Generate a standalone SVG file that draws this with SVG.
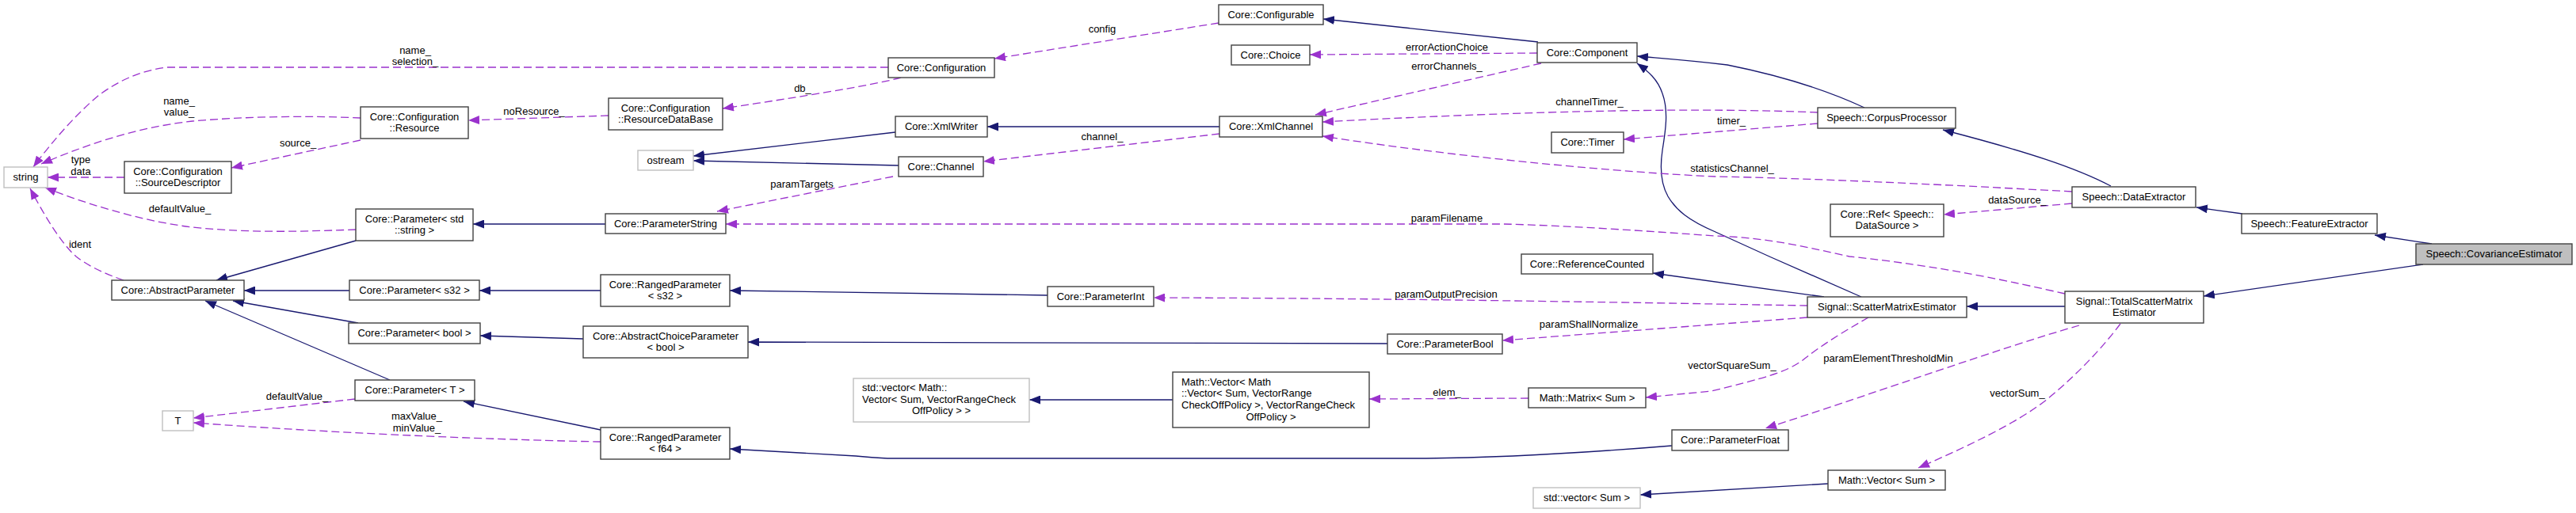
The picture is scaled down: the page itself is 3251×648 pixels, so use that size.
<svg xmlns="http://www.w3.org/2000/svg" width="3251" height="648" viewBox="0 0 3251 648">
<style>
rect.n{fill:#fff;stroke:#404040;stroke-width:1.4}
rect.g{fill:#fff;stroke:#bfbfbf;stroke-width:1.4}
rect.h{fill:#bfbfbf;stroke:#404040;stroke-width:1.4}
text{font-family:"Liberation Sans",Arial,sans-serif;font-size:13px;fill:#000}
text.m{text-anchor:middle}
path.i{fill:none;stroke:#191970;stroke-width:1.3;marker-end:url(#ab)}
path.u{fill:none;stroke:#9a32cd;stroke-width:1.3;stroke-dasharray:10,5;marker-end:url(#ap)}
</style>
<defs>
<marker id="ab" viewBox="0 0 14 11" refX="14" refY="5.5" markerWidth="14" markerHeight="11" markerUnits="userSpaceOnUse" orient="auto"><path d="M0,0L14,5.5L0,11z" fill="#191970"/></marker>
<marker id="ap" viewBox="0 0 14 11" refX="14" refY="5.5" markerWidth="14" markerHeight="11" markerUnits="userSpaceOnUse" orient="auto"><path d="M0,0L14,5.5L0,11z" fill="#9a32cd"/></marker>
</defs>
<rect width="3251" height="648" fill="#fff"/>
<g id="connectors">
<path class="i" d="M1941,53 L1670,24"/>
<path class="i" d="M2353,136 C2310,116 2250,96 2180,82 C2130,76 2100,74 2066,71"/>
<path class="i" d="M2349,375 L2233,324 L2165,293 C2130,278 2115,265 2105,248 C2095,230 2095,210 2098,190 C2102,165 2106,140 2098,118 C2092,100 2080,90 2066,80"/>
<path class="i" d="M1539,160 L1246,160"/>
<path class="i" d="M1130,167 L875,197"/>
<path class="i" d="M1134,209 L875,203"/>
<path class="i" d="M2664,235 C2620,212 2560,192 2452,164"/>
<path class="i" d="M2830,270 L2772,262"/>
<path class="i" d="M3069,308 L2997,297"/>
<path class="i" d="M3058,334 L2781,374"/>
<path class="i" d="M2606,387 L2482,387"/>
<path class="i" d="M2302,375 L2086,345"/>
<path class="i" d="M764,283 L597,283"/>
<path class="i" d="M449,304 L273,354"/>
<path class="i" d="M441,367 L308,367"/>
<path class="i" d="M452,408 L294,380"/>
<path class="i" d="M492,480 L259,380"/>
<path class="i" d="M758,367 L605,367"/>
<path class="i" d="M736,428 L606,424"/>
<path class="i" d="M758,543 L585,507"/>
<path class="i" d="M1322,373 L921,367"/>
<path class="i" d="M1751,434 L944,432"/>
<path class="i" d="M2110,563 C2000,572 1900,578 1800,579 L1120,579 C1100,578 1090,577 1080,576 L921,567"/>
<path class="i" d="M1480,505 L1299,505"/>
<path class="i" d="M2307,611 L2070,625"/>

<path class="u" d="M1121,85 L210,85 C175,90 150,102 125,120 C95,145 65,180 42,211"/>
<path class="u" d="M455,149 C390,146 310,147 243,153 C180,160 120,178 52,207"/>
<path class="u" d="M768,146 L591,152"/>
<path class="u" d="M455,177 L292,212"/>
<path class="u" d="M157,224 L60,224"/>
<path class="u" d="M449,290 C390,292 320,295 243,287 C190,281 120,262 57,237"/>
<path class="u" d="M156,354 C130,345 110,335 96,324 C80,310 60,280 38,238"/>
<path class="u" d="M448,504 L244,528"/>
<path class="u" d="M758,558 C650,556 450,549 244,534"/>
<path class="u" d="M1137,98 C1100,108 1000,124 912,137"/>
<path class="u" d="M1538,29 L1255,74"/>
<path class="u" d="M1940,67 L1653,69"/>
<path class="u" d="M1945,80 L1660,145"/>
<path class="u" d="M2294,142 C2150,136 1950,139 1669,154"/>
<path class="u" d="M2294,156 L2049,176"/>
<path class="u" d="M2615,242 C2450,233 2280,225 2165,223 C2050,218 1850,200 1669,172"/>
<path class="u" d="M1539,169 L1241,204"/>
<path class="u" d="M1127,223 L905,267"/>
<path class="u" d="M2606,371 C2540,356 2450,336 2334,324 C2280,312 2230,300 2165,298 C2080,292 1980,285 1898,283 L916,283"/>
<path class="u" d="M2281,386 C2100,383 1800,377 1456,376"/>
<path class="u" d="M2281,401 L1896,430"/>
<path class="u" d="M2358,401 C2330,417 2300,435 2275,455 C2255,470 2225,478 2160,494 L2077,502"/>
<path class="u" d="M1929,503 L1728,504"/>
<path class="u" d="M2624,411 C2520,441 2380,492 2228,541"/>
<path class="u" d="M2676,409 C2655,437 2625,470 2584,504 C2545,535 2480,565 2421,591"/>
<path class="u" d="M2615,257 L2453,271"/>

<g id="edge-labels">
<text class="m" x="524" y="67.7">name_</text>
<text class="m" x="524" y="81.7">selection_</text>
<text class="m" x="226" y="131.7">name_</text>
<text class="m" x="226" y="145.7">value_</text>
<text class="m" x="376" y="184.7">source_</text>
<text class="m" x="102" y="205.7">type</text>
<text class="m" x="102" y="220.7">data</text>
<text class="m" x="227" y="267.7">defaultValue_</text>
<text class="m" x="101" y="312.7">ident</text>
<text class="m" x="375" y="504.7">defaultValue_</text>
<text class="m" x="526" y="529.7">maxValue_</text>
<text class="m" x="526" y="544.7">minValue_</text>
<text class="m" x="674" y="144.7">noResource_</text>
<text class="m" x="1013" y="115.7">db_</text>
<text class="m" x="1012" y="236.7">paramTargets</text>
<text class="m" x="1391" y="40.7">config</text>
<text class="m" x="1391" y="176.7">channel_</text>
<text class="m" x="1826" y="63.7">errorActionChoice</text>
<text class="m" x="1826" y="87.7">errorChannels_</text>
<text class="m" x="2006" y="132.7">channelTimer_</text>
<text class="m" x="2185" y="156.7">timer_</text>
<text class="m" x="2186" y="216.7">statisticsChannel_</text>
<text class="m" x="1826" y="279.7">paramFilename</text>
<text class="m" x="1825" y="375.7">paramOutputPrecision</text>
<text class="m" x="2005" y="413.7">paramShallNormalize</text>
<text class="m" x="1826" y="499.7">elem_</text>
<text class="m" x="2186" y="465.7">vectorSquareSum_</text>
<text class="m" x="2546" y="256.7">dataSource_</text>
<text class="m" x="2383" y="456.7">paramElementThresholdMin</text>
<text class="m" x="2546" y="500.7">vectorSum_</text>
</g>
</g>

<g id="n_string"><rect class="g" x="5" y="211" width="55" height="26"/><text class="m" x="32.5" y="228.4">string</text></g>
<g id="n_sourcedescriptor"><rect class="n" x="157" y="204" width="135" height="40"/><text class="m" x="224.5" y="220.7">Core::Configuration</text><text class="m" x="224.5" y="234.7">::SourceDescriptor</text></g>
<g id="n_resource"><rect class="n" x="455" y="135" width="136" height="40"/><text class="m" x="523" y="151.7">Core::Configuration</text><text class="m" x="523" y="165.7">::Resource</text></g>
<g id="n_param_stdstring"><rect class="n" x="449" y="264" width="148" height="40"/><text class="m" x="523" y="280.7">Core::Parameter&lt; std</text><text class="m" x="523" y="294.7">::string &gt;</text></g>
<g id="n_abstractparameter"><rect class="n" x="141" y="354" width="167" height="25"/><text class="m" x="224.5" y="371.4">Core::AbstractParameter</text></g>
<g id="n_param_s32"><rect class="n" x="441" y="354" width="164" height="25"/><text class="m" x="523" y="371.4">Core::Parameter&lt; s32 &gt;</text></g>
<g id="n_param_bool"><rect class="n" x="440" y="408" width="166" height="26"/><text class="m" x="523" y="425.4">Core::Parameter&lt; bool &gt;</text></g>
<g id="n_param_T"><rect class="n" x="448" y="480" width="151" height="26"/><text class="m" x="523.5" y="497.4">Core::Parameter&lt; T &gt;</text></g>
<g id="n_T"><rect class="g" x="205" y="519" width="39" height="25"/><text class="m" x="224.5" y="536.4">T</text></g>
<g id="n_resourcedatabase"><rect class="n" x="768" y="124" width="144" height="40"/><text class="m" x="840" y="140.7">Core::Configuration</text><text class="m" x="840" y="154.7">::ResourceDataBase</text></g>
<g id="n_ostream"><rect class="g" x="805" y="190" width="70" height="25"/><text class="m" x="840" y="207.4">ostream</text></g>
<g id="n_parameterstring"><rect class="n" x="764" y="270" width="152" height="25"/><text class="m" x="840" y="287.4">Core::ParameterString</text></g>
<g id="n_ranged_s32"><rect class="n" x="758" y="347" width="163" height="40"/><text class="m" x="839.5" y="363.7">Core::RangedParameter</text><text class="m" x="839.5" y="377.7">&lt; s32 &gt;</text></g>
<g id="n_choice_bool"><rect class="n" x="736" y="412" width="208" height="40"/><text class="m" x="840" y="428.7">Core::AbstractChoiceParameter</text><text class="m" x="840" y="442.7">&lt; bool &gt;</text></g>
<g id="n_ranged_f64"><rect class="n" x="758" y="540" width="163" height="40"/><text class="m" x="839.5" y="556.7">Core::RangedParameter</text><text class="m" x="839.5" y="570.7">&lt; f64 &gt;</text></g>
<g id="n_stdvector_mathvector"><rect class="g" x="1077" y="478" width="222" height="55"/><text x="1088" y="494.4">std::vector&lt; Math::</text><text x="1088" y="509">Vector&lt; Sum, VectorRangeCheck</text><text class="m" x="1188" y="523.4">OffPolicy &gt; &gt;</text></g>
<g id="n_configurable"><rect class="n" x="1538" y="6" width="132" height="25"/><text class="m" x="1604" y="23.4">Core::Configurable</text></g>
<g id="n_choice"><rect class="n" x="1554" y="57" width="99" height="25"/><text class="m" x="1603.5" y="74.4">Core::Choice</text></g>
<g id="n_configuration"><rect class="n" x="1121" y="73" width="134" height="25"/><text class="m" x="1188" y="90.4">Core::Configuration</text></g>
<g id="n_xmlwriter"><rect class="n" x="1130" y="147" width="116" height="26"/><text class="m" x="1188" y="164.4">Core::XmlWriter</text></g>
<g id="n_xmlchannel"><rect class="n" x="1539" y="147" width="130" height="26"/><text class="m" x="1604" y="164.4">Core::XmlChannel</text></g>
<g id="n_channel"><rect class="n" x="1134" y="198" width="107" height="25"/><text class="m" x="1187.5" y="215.4">Core::Channel</text></g>
<g id="n_parameterint"><rect class="n" x="1322" y="362" width="134" height="25"/><text class="m" x="1389" y="379.4">Core::ParameterInt</text></g>
<g id="n_mathvector_mathvector"><rect class="n" x="1480" y="470" width="248" height="70"/><text x="1491" y="486.7">Math::Vector&lt; Math</text><text x="1491" y="501.4">::Vector&lt; Sum, VectorRange</text><text x="1491" y="515.7">CheckOffPolicy &gt;, VectorRangeCheck</text><text class="m" x="1604" y="530.7">OffPolicy &gt;</text></g>
<g id="n_component"><rect class="n" x="1940" y="54" width="126" height="25"/><text class="m" x="2003" y="71.4">Core::Component</text></g>
<g id="n_timer"><rect class="n" x="1958" y="167" width="91" height="26"/><text class="m" x="2003.5" y="184.4">Core::Timer</text></g>
<g id="n_referencecounted"><rect class="n" x="1920" y="321" width="166" height="25"/><text class="m" x="2003" y="338.4">Core::ReferenceCounted</text></g>
<g id="n_parameterbool"><rect class="n" x="1751" y="422" width="145" height="25"/><text class="m" x="1823.5" y="439.4">Core::ParameterBool</text></g>
<g id="n_matrix_sum"><rect class="n" x="1929" y="490" width="148" height="25"/><text class="m" x="2003" y="507.4">Math::Matrix&lt; Sum &gt;</text></g>
<g id="n_parameterfloat"><rect class="n" x="2110" y="543" width="147" height="26"/><text class="m" x="2183.5" y="560.4">Core::ParameterFloat</text></g>
<g id="n_stdvector_sum"><rect class="g" x="1935" y="616" width="135" height="26"/><text class="m" x="2002.5" y="633.4">std::vector&lt; Sum &gt;</text></g>
<g id="n_corpusprocessor"><rect class="n" x="2294" y="136" width="174" height="26"/><text class="m" x="2381" y="153.4">Speech::CorpusProcessor</text></g>
<g id="n_dataextractor"><rect class="n" x="2615" y="236" width="156" height="26"/><text class="m" x="2693" y="253.4">Speech::DataExtractor</text></g>
<g id="n_ref_datasource"><rect class="n" x="2310" y="258" width="143" height="41"/><text class="m" x="2381.5" y="274.7">Core::Ref&lt; Speech::</text><text class="m" x="2381.5" y="288.7">DataSource &gt;</text></g>
<g id="n_scattermatrixestimator"><rect class="n" x="2281" y="375" width="201" height="26"/><text class="m" x="2381.5" y="392.4">Signal::ScatterMatrixEstimator</text></g>
<g id="n_totalscattermatrixestimator"><rect class="n" x="2606" y="368" width="175" height="40"/><text class="m" x="2693.5" y="384.7">Signal::TotalScatterMatrix</text><text class="m" x="2693.5" y="398.7">Estimator</text></g>
<g id="n_mathvector_sum"><rect class="n" x="2307" y="594" width="148" height="25"/><text class="m" x="2381" y="611.4">Math::Vector&lt; Sum &gt;</text></g>
<g id="n_featureextractor"><rect class="n" x="2829" y="270" width="171" height="25"/><text class="m" x="2914.5" y="287.4">Speech::FeatureExtractor</text></g>
<g id="n_covarianceestimator"><rect class="h" x="3049" y="308" width="197" height="26"/><text class="m" x="3147.5" y="325.4">Speech::CovarianceEstimator</text></g>
</svg>
